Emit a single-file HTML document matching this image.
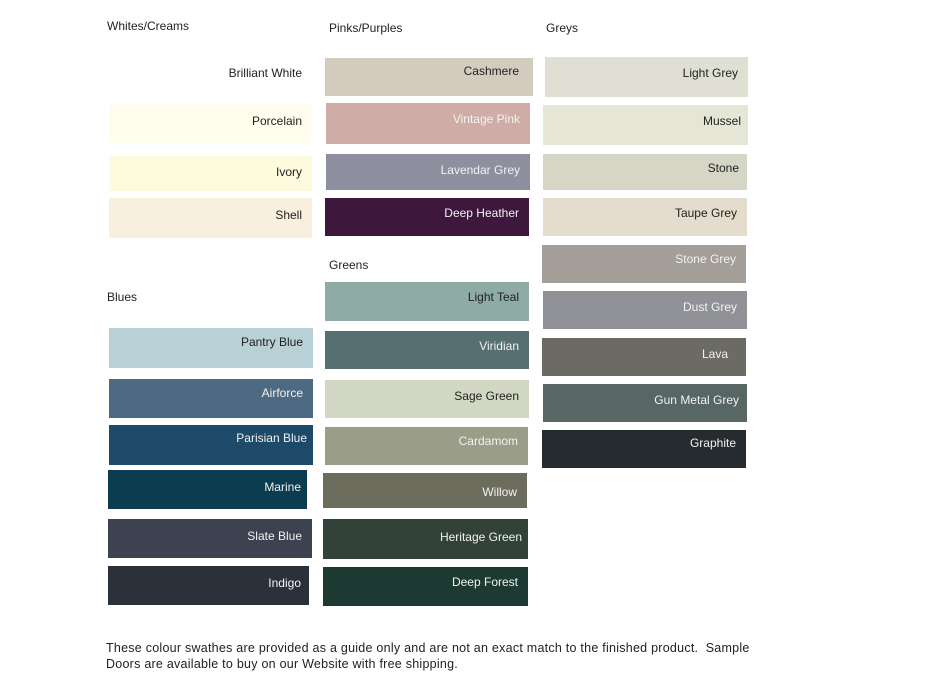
<!DOCTYPE html>
<html><head><meta charset="utf-8"><style>
body{margin:0;width:933px;height:700px;background:#fff;position:relative;overflow:hidden;font-family:"Liberation Sans","DejaVu Sans",sans-serif;color:#222}
.s{position:absolute;box-sizing:border-box;font-size:12px;text-align:right;padding-right:10px}
.h{position:absolute;font-size:12px;color:#222}
.w{color:#f2f2f2}
.f{position:absolute;left:106px;top:640px;font-size:12.5px;line-height:16px;color:#222;width:760px;letter-spacing:0.25px;white-space:nowrap}
</style></head><body>
<div class="h" style="left:107px;top:19px">Whites/Creams</div>
<div class="h" style="left:329px;top:21px">Pinks/Purples</div>
<div class="h" style="left:546px;top:21px">Greys</div>
<div class="h" style="left:329px;top:258px">Greens</div>
<div class="h" style="left:107px;top:290px">Blues</div>

<div class="s" style="left:109px;top:58px;width:203px;height:38px;padding-top:8px">Brilliant White</div>
<div class="s" style="left:109px;top:103px;width:203px;height:40px;background:#fffdee;padding-top:11px">Porcelain</div>
<div class="s" style="left:109px;top:156px;width:203px;height:35px;background:#fdfbde;padding-top:9px">Ivory</div>
<div class="s" style="left:109px;top:198px;width:203px;height:40px;background:#f8efdf;padding-top:10px">Shell</div>

<div class="s" style="left:325px;top:58px;width:208px;height:38px;background:#d3ccbe;padding-top:6px;padding-right:14px">Cashmere</div>
<div class="s w" style="left:326px;top:103px;width:204px;height:41px;background:#cfaca6;padding-top:9px">Vintage Pink</div>
<div class="s w" style="left:326px;top:154px;width:204px;height:36px;background:#8e8f9f;padding-top:9px">Lavendar Grey</div>
<div class="s w" style="left:325px;top:198px;width:204px;height:38px;background:#3d173c;padding-top:8px">Deep Heather</div>

<div class="s" style="left:325px;top:282px;width:204px;height:39px;background:#8eaba6;padding-top:8px">Light Teal</div>
<div class="s w" style="left:325px;top:331px;width:204px;height:38px;background:#566f70;padding-top:8px">Viridian</div>
<div class="s" style="left:325px;top:380px;width:204px;height:38px;background:#d1d7c3;padding-top:9px">Sage Green</div>
<div class="s w" style="left:325px;top:427px;width:203px;height:38px;background:#9a9e88;padding-top:7px">Cardamom</div>
<div class="s w" style="left:323px;top:473px;width:204px;height:35px;background:#6d6d5d;padding-top:12px">Willow</div>
<div class="s w" style="left:323px;top:519px;width:205px;height:40px;background:#324238;padding-top:11px;padding-right:6px">Heritage Green</div>
<div class="s w" style="left:323px;top:567px;width:205px;height:39px;background:#1c3a31;padding-top:8px">Deep Forest</div>

<div class="s" style="left:545px;top:57px;width:203px;height:40px;background:#dfdfd3;padding-top:9px">Light Grey</div>
<div class="s" style="left:543px;top:105px;width:205px;height:40px;background:#e5e6d6;padding-top:9px;padding-right:7px">Mussel</div>
<div class="s" style="left:543px;top:154px;width:204px;height:36px;background:#d5d6c5;padding-top:7px;padding-right:8px">Stone</div>
<div class="s" style="left:543px;top:198px;width:204px;height:38px;background:#e4dccc;padding-top:8px">Taupe Grey</div>
<div class="s w" style="left:542px;top:245px;width:204px;height:38px;background:#a39e97;padding-top:7px">Stone Grey</div>
<div class="s w" style="left:543px;top:291px;width:204px;height:38px;background:#919297;padding-top:9px">Dust Grey</div>
<div class="s w" style="left:542px;top:338px;width:204px;height:38px;background:#6b6a63;padding-top:9px;padding-right:18px">Lava</div>
<div class="s w" style="left:543px;top:384px;width:204px;height:38px;background:#586664;padding-top:9px;padding-right:8px">Gun Metal Grey</div>
<div class="s w" style="left:542px;top:430px;width:204px;height:38px;background:#262b2f;padding-top:6px">Graphite</div>

<div class="s" style="left:109px;top:328px;width:204px;height:40px;background:#b7d1d7;padding-top:7px">Pantry Blue</div>
<div class="s w" style="left:109px;top:379px;width:204px;height:39px;background:#4e6a83;padding-top:7px">Airforce</div>
<div class="s w" style="left:109px;top:425px;width:204px;height:40px;background:#1d4a68;padding-top:6px;padding-right:6px">Parisian Blue</div>
<div class="s w" style="left:108px;top:470px;width:199px;height:39px;background:#0c3c50;padding-top:10px;padding-right:6px">Marine</div>
<div class="s w" style="left:108px;top:519px;width:204px;height:39px;background:#3c4250;padding-top:10px">Slate Blue</div>
<div class="s w" style="left:108px;top:566px;width:201px;height:39px;background:#2b313b;padding-top:10px;padding-right:8px">Indigo</div>

<div class="f">These colour swathes are provided as a guide only and are not an exact match to the finished product.&nbsp; Sample<br>Doors are available to buy on our Website with free shipping.</div>
</body></html>
